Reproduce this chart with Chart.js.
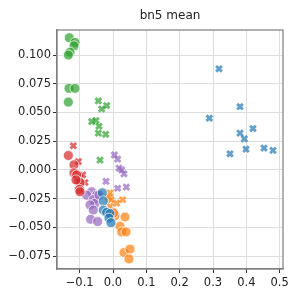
<!DOCTYPE html>
<html>
<head>
    <title>bn5 mean</title>
    <script src="https://cdn.jsdelivr.net/npm/chart.js"></script>
    <style>
        body { margin: 0; background: #fff; }
    </style>
</head>
<body>
    <canvas id="scatterChart" width="299" height="299"></canvas>

    <script>
        // tick positions
        const xTicks = [-0.1, 0.0, 0.1, 0.2, 0.3, 0.4, 0.5];
        const yTicks = [-0.075, -0.05, -0.025, 0.0, 0.025, 0.05, 0.075, 0.1];

        // points per group, [x, y]
        const blueDots = [[-0.032, -0.020], [-0.029, -0.027], [-0.029, -0.035], [-0.019, -0.037],
                          [-0.009, -0.038], [-0.012, -0.042], [-0.006, -0.046]];
        const blueCrosses = [[0.318, 0.088], [0.381, 0.055], [0.289, 0.045], [0.381, 0.032], [0.420, 0.036],
                             [0.394, 0.027], [0.351, 0.014], [0.399, 0.018], [0.453, 0.019], [0.480, 0.017]];
        const orangeDots = [[0.006, -0.040], [0.036, -0.041], [0.002, -0.0375], [0.021, -0.049], [0.026, -0.054],
                            [0.039, -0.054], [0.033, -0.072], [0.051, -0.069], [0.048, -0.0775]];
        const orangeCrosses = [[-0.009, -0.020], [-0.006, -0.026], [0.011, -0.029], [0.029, -0.026],
                               [-0.009, -0.032], [-0.001, -0.036], [-0.014, -0.024]];
        const greenDots = [[-0.131, 0.115], [-0.114, 0.111], [-0.117, 0.108], [-0.129, 0.1025], [-0.134, 0.100],
                           [-0.132, 0.071], [-0.114, 0.071], [-0.134, 0.059]];
        const greenCrosses = [[-0.044, 0.060], [-0.019, 0.056], [-0.034, 0.053], [-0.064, 0.042], [-0.051, 0.043],
                              [-0.042, 0.038], [-0.044, 0.032], [-0.022, 0.031], [-0.039, 0.0085]];
        const redDots = [[-0.134, 0.0125], [-0.117, 0.0044], [-0.117, -0.0026], [-0.109, -0.0044], [-0.104, -0.010],
                         [-0.099, -0.011], [-0.101, -0.017], [-0.099, -0.019], [-0.111, -0.0087]];
        const redCrosses = [[-0.119, 0.021], [-0.104, 0.0072], [-0.091, -0.0044], [-0.084, -0.011], [-0.099, -0.007]];
        const purpleDots = [[-0.064, -0.019], [-0.079, -0.022], [-0.049, -0.022], [-0.059, -0.026], [-0.054, -0.029],
                            [-0.069, -0.0305], [-0.059, -0.035], [-0.067, -0.043], [-0.046, -0.045], [-0.042, -0.022]];
        const purpleCrosses = [[0.004, 0.013], [0.014, 0.0093], [0.018, 0.0015], [0.026, 0.0], [0.033, -0.0035],
                               [0.014, -0.016], [0.040, -0.015], [-0.021, -0.010]];

        const colors = {
            blue: 'rgba(31, 119, 180, 0.7)',
            orange: 'rgba(255, 127, 14, 0.7)',
            green: 'rgba(44, 160, 44, 0.7)',
            red: 'rgba(214, 39, 40, 0.7)',
            purple: 'rgba(148, 103, 189, 0.7)'
        };

        function toPoints(pairs) {
            return pairs.map(p => ({ x: p[0], y: p[1] }));
        }

        function dots(pairs, color) {
            return {
                data: toPoints(pairs),
                pointStyle: 'circle',
                pointRadius: 5,
                backgroundColor: color,
                borderColor: 'rgba(255,255,255,0.9)',
                borderWidth: 0.8
            };
        }

        function crosses(pairs, color) {
            return {
                data: toPoints(pairs),
                pointStyle: 'crossRot',
                pointRadius: 4,
                backgroundColor: color,
                borderColor: color,
                borderWidth: 2.9
            };
        }

        // box around the plot area (top/right spines)
        const frame = {
            id: 'frame',
            afterDraw(chart) {
                const a = chart.chartArea;
                const ctx = chart.ctx;
                ctx.save();
                ctx.strokeStyle = '#7f7f7f';
                ctx.lineWidth = 1.2;
                ctx.strokeRect(a.left, a.top, a.right - a.left, a.bottom - a.top);
                ctx.restore();
            }
        };

        const tickFont = { family: 'DejaVu Sans', size: 11.5 };

        new Chart(document.getElementById('scatterChart'), {
            type: 'scatter',
            data: {
                datasets: [
                    dots(blueDots, colors.blue),
                    dots(orangeDots, colors.orange),
                    dots(greenDots, colors.green),
                    dots(redDots, colors.red),
                    dots(purpleDots, colors.purple),
                    crosses(blueCrosses, colors.blue),
                    crosses(orangeCrosses, colors.orange),
                    crosses(greenCrosses, colors.green),
                    crosses(redCrosses, colors.red),
                    crosses(purpleCrosses, colors.purple)
                ]
            },
            options: {
                responsive: false,
                animation: false,
                layout: { padding: { left: 0, right: 16, top: 0, bottom: 0 } },
                plugins: {
                    legend: { display: false },
                    tooltip: { enabled: false },
                    title: {
                        display: true,
                        text: 'bn5 mean',
                        fullSize: false,
                        color: '#222',
                        font: { family: 'DejaVu Sans', size: 12, weight: 'normal' },
                        padding: { top: 9, bottom: 6.6 }
                    }
                },
                scales: {
                    x: {
                        type: 'linear',
                        min: -0.168,
                        max: 0.51,
                        afterBuildTicks: scale => { scale.ticks = xTicks.map(v => ({ value: v })); },
                        afterFit: scale => { scale.height = 30; },
                        ticks: {
                            color: '#222',
                            font: tickFont,
                            padding: 3,
                            maxRotation: 0,
                            callback: v => v.toFixed(1).replace('-', '\u2212')
                        },
                        grid: { color: '#dedede', tickColor: '#333', tickLength: 4 },
                        border: { color: '#7f7f7f', width: 1.2 }
                    },
                    y: {
                        type: 'linear',
                        min: -0.0863,
                        max: 0.1218,
                        afterBuildTicks: scale => { scale.ticks = yTicks.map(v => ({ value: v })); },
                        afterFit: scale => { scale.width = 57; },
                        ticks: {
                            color: '#222',
                            font: tickFont,
                            padding: 2,
                            callback: v => v.toFixed(3).replace('-', '\u2212')
                        },
                        grid: { color: '#dedede', tickColor: '#333', tickLength: 4 },
                        border: { color: '#7f7f7f', width: 1.2 }
                    }
                }
            },
            plugins: [frame]
        });
    </script>
</body>
</html>
